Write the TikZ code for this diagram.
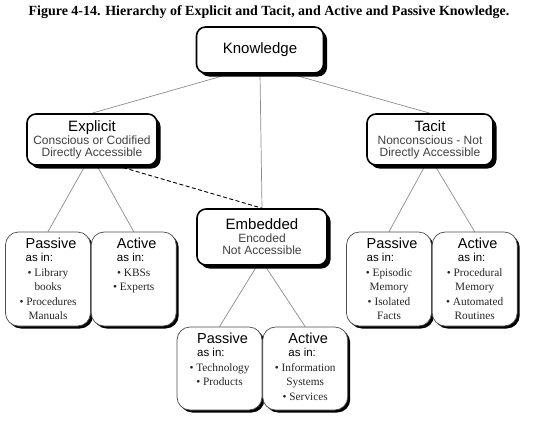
\documentclass[tikz,border=0pt]{standalone}
\usepackage{fontspec}
\setmainfont{Liberation Serif}
\setsansfont{Liberation Sans}
\usetikzlibrary{positioning, shadows, backgrounds}
\tikzset{
  topbox/.style={draw=black, rounded corners=9pt, line width=1.6pt, fill=white, align=center, inner sep=2pt,
    drop shadow={shadow xshift=3.5pt, shadow yshift=-3.5pt, fill=black, opacity=1}},
  leafbox/.style={draw=black!70, rounded corners=13pt, line width=0.7pt, fill=white, inner xsep=2pt, inner ysep=6pt,
    minimum width=85pt, drop shadow={shadow xshift=2.5pt, shadow yshift=-2.5pt, fill=black, opacity=1}},
  link/.style={draw=black!45, line width=0.7pt},
  dashlink/.style={draw=black, dash pattern=on 4pt off 2.5pt, line width=0.9pt}
}
\newcommand{\headfont}{\sffamily\fontsize{15}{17}\selectfont}
\newcommand{\subfont}{\sffamily\fontsize{12}{14}\selectfont\color{black!75}}
% leaf text: height, heading, bullets
\newcommand{\leafbody}[3]{\parbox[c][#1][t]{80pt}{\centering
  {\sffamily\fontsize{11.5}{13}\selectfont\hspace*{6pt}\begin{tabular}[b]{@{}l@{}}\fontsize{14.5}{17}\selectfont #2\\ as in:\end{tabular}\par}
  {\color{black!85}\fontsize{11.3}{14.5}\selectfont #3\par}}}

\begin{document}
\begin{tikzpicture}[x=1pt, y=-1pt]
\useasboundingbox (0,0) rectangle (540,420);

\node[font=\bfseries\fontsize{14}{16}\selectfont] (title) at (269,12.5)
  {Figure 4-14. Hierarchy of Explicit and Tacit, and Active and Passive Knowledge.};

% top levels
\node[topbox, minimum width=127pt, minimum height=46pt] (know) at (260,50) {\headfont Knowledge};
\node[topbox, minimum width=130pt, minimum height=51pt] (expl) at (92,139.5)
  {\headfont Explicit\\[1pt] \subfont Conscious or Codified\\ \subfont Directly Accessible};
\node[topbox, minimum width=126pt, minimum height=51pt] (tacit) at (430,139.5)
  {\headfont Tacit\\[1pt] \subfont Nonconscious - Not\\ \subfont Directly Accessible};
\node[topbox, minimum width=130pt, minimum height=56pt] (emb) at (262,237)
  {\headfont Embedded\\[1pt] \subfont Encoded\\ \subfont Not Accessible};

% leaves
\node[leafbox] (ep) at (48,279) {\leafbody{82pt}{Passive}{\textbullet\ Library\\ books\\ \textbullet\ Procedures\\ Manuals}};
\node[leafbox, right=0pt of ep] (ea) {\leafbody{82pt}{Active}{\textbullet\ KBSs\\ \textbullet\ Experts}};
\node[leafbox] (tp) at (389,279) {\leafbody{82pt}{Passive}{\textbullet\ Episodic\\ Memory\\ \textbullet\ Isolated\\ Facts}};
\node[leafbox, right=0pt of tp] (ta) {\leafbody{82pt}{Active}{\textbullet\ Procedural\\ Memory\\ \textbullet\ Automated\\ Routines}};
\node[leafbox] (mp) at (219.5,368.5) {\leafbody{71pt}{Passive}{\textbullet\ Technology\\ \textbullet\ Products}};
\node[leafbox, right=0pt of mp] (ma) {\leafbody{71pt}{Active}{\textbullet\ Information\\ Systems\\ \textbullet\ Services}};

% connectors, behind the boxes
\begin{scope}[on background layer]
\draw[link] ([xshift=-30pt]know.south) -- (expl.north);
\draw[link] ([xshift=30pt]know.south) -- (tacit.north);
\draw[link] (know.south) -- (emb.north);
\draw[link] ([xshift=-7pt]expl.south) -- (ep.north);
\draw[link] ([xshift=5pt]expl.south) -- (ea.north);
\draw[link] ([xshift=-5pt]tacit.south) -- (tp.north);
\draw[link] ([xshift=5pt]tacit.south) -- (ta.north);
\draw[link] ([xshift=-5pt]emb.south) -- (mp.north);
\draw[link] ([xshift=3pt]emb.south) -- (ma.north);
\draw[dashlink] ([xshift=25pt]expl.south) -- (emb.north);
\end{scope}
\end{tikzpicture}
\end{document}
